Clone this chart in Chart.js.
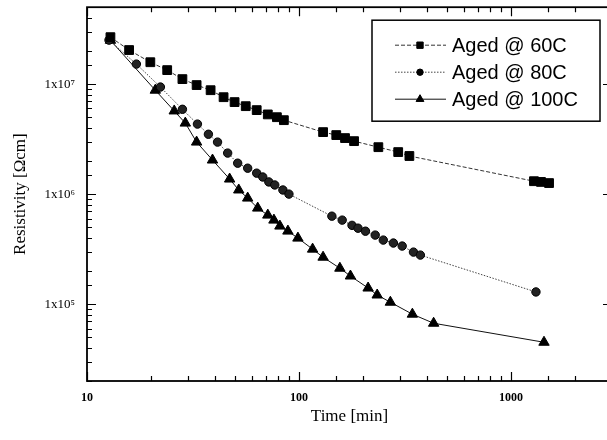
<!DOCTYPE html>
<html>
<head>
<meta charset="utf-8">
<script src="https://cdn.jsdelivr.net/npm/chart.js@4/dist/chart.umd.min.js"></script>
<style>
  html, body { margin: 0; padding: 0; background: #fff; overflow: hidden; }
  #wrap { width: 620px; height: 440px; }
</style>
</head>
<body>
<div id="wrap"><canvas id="chart"></canvas></div>
<script>
// time [min] and resistivity [ohm cm]
var t60 = [12.9, 15.8, 19.9, 23.9, 28.2, 32.9, 38.3, 44.1, 49.7, 56.1, 63.2, 71.3, 78.7, 84.9, 130, 150, 165, 182, 237, 294, 332, 1285, 1387, 1514];
var r60 = [2.67e7, 2.04e7, 1.58e7, 1.34e7, 1.11e7, 9.8e6, 8.8e6, 7.6e6, 6.86e6, 6.3e6, 5.8e6, 5.3e6, 5.0e6, 4.7e6, 3.66e6, 3.44e6, 3.23e6, 3.03e6, 2.67e6, 2.41e6, 2.22e6, 1.31e6, 1.29e6, 1.26e6];

var t80 = [12.7, 17.1, 22.2, 28.2, 33.2, 37.4, 41.3, 46.1, 51.4, 57.3, 63.2, 67.5, 72.1, 76.9, 84, 89.7, 143, 160, 178, 190, 206, 229, 250, 279, 307, 347, 374, 1313];
var r80 = [2.51e7, 1.52e7, 9.4e6, 5.9e6, 4.33e6, 3.5e6, 2.97e6, 2.36e6, 1.91e6, 1.72e6, 1.55e6, 1.43e6, 1.29e6, 1.21e6, 1.09e6, 1.0e6, 6.3e5, 5.8e5, 5.2e5, 4.9e5, 4.6e5, 4.24e5, 3.82e5, 3.59e5, 3.37e5, 2.97e5, 2.79e5, 1.29e5];

var t100 = [12.9, 21.0, 25.8, 29.1, 32.9, 39.1, 47.1, 52.0, 57.3, 63.9, 71.3, 76.2, 81.3, 88.7, 98.9, 116, 130, 156, 175, 212, 234, 270, 343, 432, 1433];
var r100 = [2.5e7, 8.8e6, 5.7e6, 4.42e6, 2.97e6, 2.04e6, 1.37e6, 1.09e6, 9.2e5, 7.46e5, 6.44e5, 5.8e5, 5.12e5, 4.61e5, 3.98e5, 3.16e5, 2.67e5, 2.12e5, 1.8e5, 1.4e5, 1.21e5, 1.04e5, 8.1e4, 6.7e4, 4.5e4];

var seriesNames = ['Aged @ 60C', 'Aged @ 80C', 'Aged @ 100C'];

function pairs(xs, ys) {
  return xs.map(function (v, i) { return { x: v, y: ys[i] }; });
}

function isDecade(v) {
  var l = Math.log10(v);
  return Math.abs(l - Math.round(l)) < 1e-6;
}

var sup = { 4: '⁴', 5: '⁵', 6: '⁶', 7: '⁷', 8: '⁸' };

// frame + inward tick marks on all four sides
var frameTicks = {
  id: 'frameTicks',
  afterDraw: function (chart) {
    var ctx = chart.ctx, a = chart.chartArea;
    var xs = chart.scales.x, ys = chart.scales.y;
    ctx.save();
    ctx.strokeStyle = '#000';
    ctx.lineWidth = 1.8;
    ctx.strokeRect(a.left, a.top, a.right - a.left, a.bottom - a.top);
    ctx.lineWidth = 1.2;
    ctx.beginPath();
    xs.ticks.forEach(function (t) {
      var px = Math.round(xs.getPixelForValue(t.value)) + 0.5;
      var len = isDecade(t.value) ? 9 : 5;
      ctx.moveTo(px, a.bottom); ctx.lineTo(px, a.bottom - len);
      ctx.moveTo(px, a.top); ctx.lineTo(px, a.top + len);
    });
    ys.ticks.forEach(function (t) {
      var py = Math.round(ys.getPixelForValue(t.value)) + 0.5;
      var len = isDecade(t.value) ? 9 : 5;
      ctx.moveTo(a.left, py); ctx.lineTo(a.left + len, py);
      ctx.moveTo(a.right, py); ctx.lineTo(a.right - len, py);
    });
    ctx.stroke();
    ctx.restore();
  }
};

// boxed legend inside the plot, top right
var boxLegend = {
  id: 'boxLegend',
  afterDraw: function (chart) {
    var ctx = chart.ctx, a = chart.chartArea;
    var x0 = a.right - 240, y0 = a.top + 13, w = 228, h = 101;
    ctx.save();
    ctx.fillStyle = '#fff';
    ctx.fillRect(x0, y0, w, h);
    ctx.strokeStyle = '#000';
    ctx.lineWidth = 1.5;
    ctx.strokeRect(x0, y0, w, h);
    chart.data.datasets.forEach(function (ds, i) {
      var y = y0 + 25 + i * 27;
      ctx.strokeStyle = ds.borderColor;
      ctx.lineWidth = 1;
      ctx.setLineDash(ds.borderDash || []);
      ctx.beginPath();
      ctx.moveTo(x0 + 23, y); ctx.lineTo(x0 + 74, y);
      ctx.stroke();
      ctx.setLineDash([]);
      ctx.fillStyle = '#000';
      ctx.strokeStyle = '#000';
      Chart.helpers.drawPoint(ctx, { pointStyle: ds.pointStyle, radius: ds.legendRadius, rotation: 0, borderWidth: 1 }, x0 + 48, y);
      ctx.fillStyle = '#000';
      ctx.font = '20px "Liberation Sans", Arial, sans-serif';
      ctx.textBaseline = 'middle';
      ctx.textAlign = 'left';
      ctx.fillText(ds.label, x0 + 80, y + 1);
    });
    ctx.restore();
  }
};

var chart = new Chart(document.getElementById('chart'), {
  type: 'scatter',
  data: {
    datasets: [{
      label: seriesNames[0],
      data: pairs(t60, r60),
      showLine: true,
      borderColor: '#333',
      borderWidth: 1,
      borderDash: [4, 2],
      pointStyle: 'rect',
      pointRadius: 6.2,
      legendRadius: 4.5,
      pointBackgroundColor: '#000',
      pointBorderColor: '#000'
    }, {
      label: seriesNames[1],
      data: pairs(t80, r80),
      showLine: true,
      borderColor: '#444',
      borderWidth: 1,
      borderDash: [1.5, 1.5],
      pointStyle: 'circle',
      pointRadius: 4.2,
      legendRadius: 3.2,
      pointBackgroundColor: '#222',
      pointBorderColor: '#000'
    }, {
      label: seriesNames[2],
      data: pairs(t100, r100),
      showLine: true,
      borderColor: '#111',
      borderWidth: 1,
      pointStyle: 'triangle',
      pointRadius: 6,
      legendRadius: 4.5,
      pointBackgroundColor: '#000',
      pointBorderColor: '#000'
    }]
  },
  options: {
    responsive: true,
    maintainAspectRatio: false,
    animation: false,
    layout: { padding: { top: 7, right: 8, left: 0, bottom: 0 } },
    plugins: {
      legend: { display: false },
      tooltip: { enabled: false }
    },
    scales: {
      x: {
        type: 'logarithmic',
        min: 10,
        max: 3000,
        grid: { display: false, drawTicks: false },
        border: { display: false },
        afterFit: function (s) { s.height = 59; s.paddingLeft = 0; s.paddingRight = 0; },
        ticks: {
          autoSkip: false,
          maxRotation: 0,
          padding: 10,
          color: '#000',
          font: { family: '"Liberation Serif", "Times New Roman", serif', size: 12, weight: 'bold' },
          callback: function (v) { return isDecade(v) ? String(Math.round(v)) : ''; }
        },
        title: {
          display: true,
          text: 'Time [min]',
          color: '#000',
          font: { family: '"Liberation Serif", "Times New Roman", serif', size: 17 },
          padding: { top: 13, bottom: 13 }
        }
      },
      y: {
        type: 'logarithmic',
        min: 2e4,
        max: 5e7,
        grid: { display: false, drawTicks: false },
        border: { display: false },
        afterFit: function (s) { s.width = 87; s.paddingTop = 0; s.paddingBottom = 0; },
        ticks: {
          autoSkip: false,
          padding: 12,
          color: '#000',
          font: { family: '"Liberation Serif", "Times New Roman", serif', size: 13 },
          callback: function (v) {
            if (!isDecade(v)) return '';
            return '1x10' + sup[Math.round(Math.log10(v))];
          }
        },
        title: {
          display: true,
          text: 'Resistivity [Ωcm]',
          color: '#000',
          font: { family: '"Liberation Serif", "Times New Roman", serif', size: 17 },
          padding: { top: 10, bottom: 10 }
        }
      }
    }
  },
  plugins: [frameTicks, boxLegend]
});
</script>
</body>
</html>
